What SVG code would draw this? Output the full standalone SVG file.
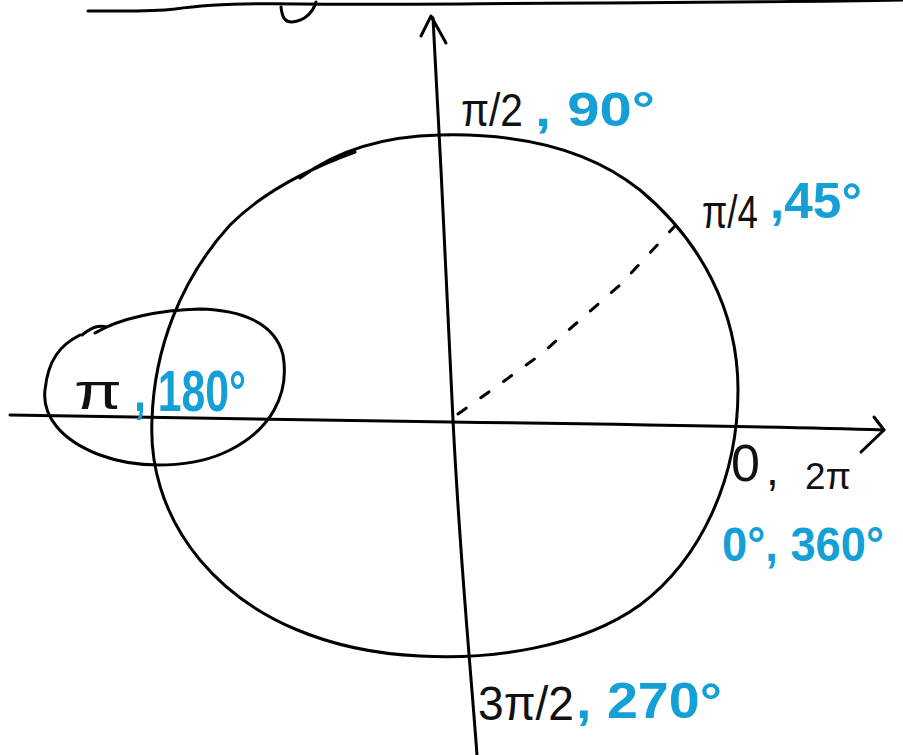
<svg xmlns="http://www.w3.org/2000/svg" width="903" height="755" viewBox="0 0 903 755">
<style>
.s{fill:none;stroke:#000;stroke-width:3;stroke-linecap:round;stroke-linejoin:round}
.k{fill:#111;font-family:"Liberation Sans","DejaVu Sans",sans-serif}
.b{fill:#149fd6;font-family:"Liberation Sans","DejaVu Sans",sans-serif;font-weight:bold}
</style>
<rect width="903" height="755" fill="#fff"/>
<g id="connectors">
<path class="s" d="M88 11 C120 11 150 12 175 9 C210 4 250 3 300 4 C400 5 500 3 600 3 C700 2 800 2 903 0"/>
<path class="s" d="M281 7 C282 16 284 22 292 22 C305 21 313 12 316 2"/>
<path id="y-axis" class="s" d="M433 18 C440 150 448 300 453 420 C460 560 470 660 477 755"/>
<path class="s" d="M421 36 L431 16 L446 43"/>
<path id="x-axis" class="s" d="M10 415 C150 418 300 420 450 422 C600 424 750 426 884 430"/>
<path class="s" d="M874 417 L884 430 L861 452"/>
<path id="dashes" class="s" stroke-dasharray="10 18" d="M458 414 L500 384 L540 355 L580 320 L620 285 L675 226"/>
</g>
<g id="circle">
<path class="s" d="M300 178 C340 148 390 136 440 135 C520 133 590 150 640 190 C700 240 738 310 738 390 C738 480 700 560 640 605 C580 648 490 660 420 656 C330 652 250 620 200 560 C160 512 150 460 152 420 C154 350 180 280 230 225 C260 195 300 172 355 152"/>
</g>
<g id="label-pi">
<path class="s" d="M82 335 C92 327 98 325 107 327 M95 333 C120 318 160 310 200 309 C240 310 275 322 283 355 C290 395 270 430 230 450 C195 468 140 470 100 455 C60 440 42 415 45 390 C48 360 60 345 80 335"/>
<text class="k" x="74" y="409" font-size="50" textLength="48" lengthAdjust="spacingAndGlyphs">π</text>
<text class="b" x="134" y="411" font-size="58" textLength="112" lengthAdjust="spacingAndGlyphs">, 180°</text>
</g>
<g id="label-90">
<text class="k" x="461" y="126" font-size="46" textLength="62" lengthAdjust="spacingAndGlyphs">π/2</text>
<text class="b" x="535" y="126" font-size="48" textLength="120" lengthAdjust="spacingAndGlyphs">, 90°</text>
</g>
<g id="label-45">
<text class="k" x="702" y="228" font-size="46" textLength="56" lengthAdjust="spacingAndGlyphs">π/4</text>
<text class="b" x="770" y="218" font-size="50" textLength="92" lengthAdjust="spacingAndGlyphs">,45°</text>
</g>
<g id="label-0">
<text class="k" x="731" y="481" font-size="52">0</text>
<text class="k" x="766" y="485" font-size="46">,</text>
<text class="k" x="805" y="489" font-size="36" textLength="46" lengthAdjust="spacingAndGlyphs">2π</text>
<text class="b" x="722" y="561" font-size="48" textLength="162" lengthAdjust="spacingAndGlyphs">0°, 360°</text>
</g>
<g id="label-270">
<text class="k" x="478" y="720" font-size="48" textLength="96" lengthAdjust="spacingAndGlyphs">3π/2</text>
<text class="b" x="576" y="718" font-size="50" textLength="146" lengthAdjust="spacingAndGlyphs">, 270°</text>
</g>
</svg>
